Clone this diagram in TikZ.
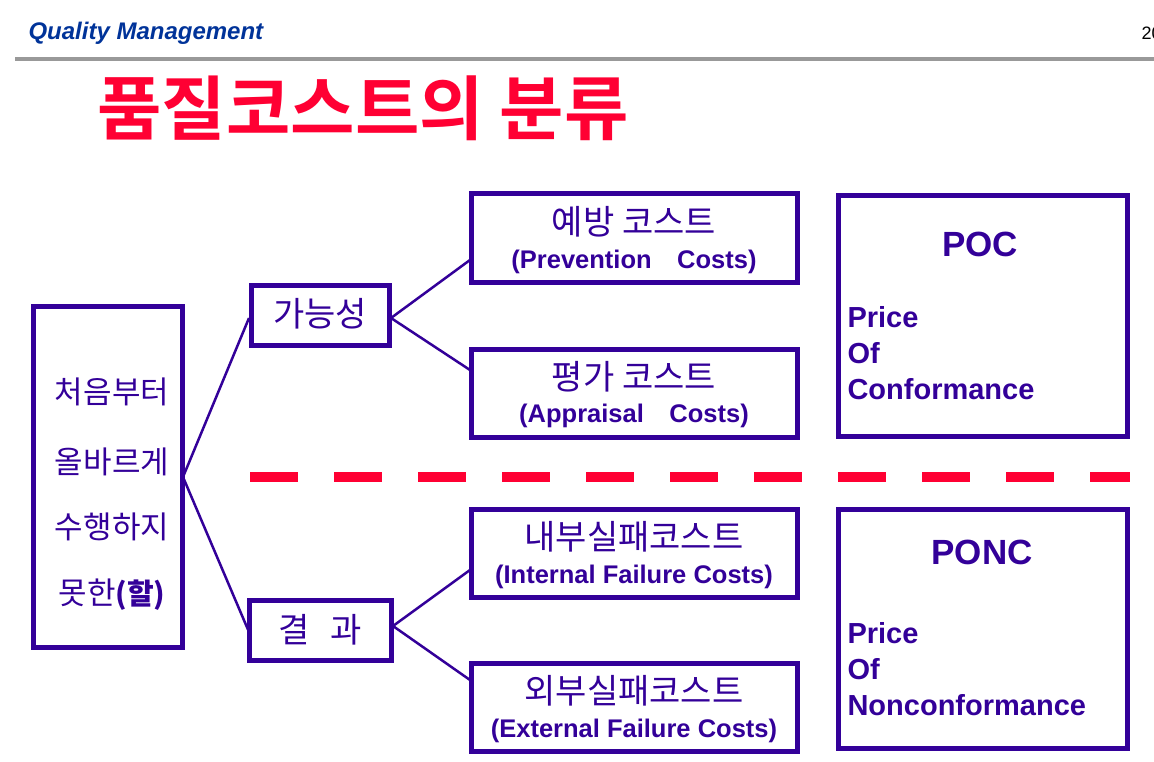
\documentclass[tikz,border=0pt]{standalone}
\usepackage{fontspec}
\setmainfont{Liberation Sans}
\newfontfamily\kr{Noto Sans CJK KR}
\newfontfamily\krb{Noto Sans CJK KR Bold}
\definecolor{ink}{HTML}{330099}
\definecolor{hdr}{HTML}{003399}
\definecolor{ttl}{HTML}{FF0033}
\begin{document}
\begin{tikzpicture}[x=1pt,y=-1pt,
  bx/.style={draw=ink,line width=5pt},
  ln/.style={draw=ink,line width=2.5pt},
  en/.style={text=ink,font=\bfseries\fontsize{25.5}{28}\selectfont},
  ko/.style={text=ink,font=\kr\fontsize{34}{36}\selectfont},
  lk/.style={text=ink,font=\kr\fontsize{31}{34}\selectfont}]
\useasboundingbox (0,0) rectangle (1154,762);
\node[anchor=west,text=hdr,font=\bfseries\itshape\fontsize{24}{26}\selectfont] (hd) at (25,33) {Quality Management};
\node[anchor=west,font=\rmfamily\fontsize{18}{20}\selectfont] (pg) at (1138,33) {20};
\draw[draw=gray!80,line width=4pt] (15,59) -- (1154,59);
\node[anchor=west,text=ttl,font=\krb\fontsize{70}{74}\selectfont] (t) at (94,108) {품질코스트의 분류};
% left box
\draw[bx] (33,306) rectangle (182,647);
\node[lk] (l1) at (112,392) {처음부터};
\node[lk] (l2) at (112,462) {올바르게};
\node[lk] (l3) at (112,527) {수행하지};
\node[lk] (l4) at (112,595) {못한\bfseries\fontsize{29}{30}\selectfont(할)};
\coordinate (L) at (183,477);
% mid boxes
\draw[bx] (251,285) rectangle (389,345);
\node[ko] (a) at (320,314) {가능성};
\draw[bx] (249,600) rectangle (391,660);
\node[ko] (b) at (320,630) {결\hspace{0.6em}과};
\draw[ln] (L) -- (249,318);
\draw[ln] (L) -- (249,632);
% right boxes
\draw[bx] (471,194) rectangle (797,282);
\node[ko] (p1) at (634,222) {예방 코스트};
\node[en] (p2) at (634,262) {(Prevention\hspace{1em}Costs)};
\draw[bx] (471,349) rectangle (797,437);
\node[ko] (q1) at (634,377) {평가 코스트};
\node[en] (q2) at (634,416) {(Appraisal\hspace{1em}Costs)};
\draw[bx] (471,509) rectangle (797,597);
\node[ko] (r1) at (634,537) {내부실패코스트};
\node[en] (r2) at (634,577) {(Internal Failure Costs)};
\draw[bx] (471,663) rectangle (797,751);
\node[ko] (s1) at (634,691) {외부실패코스트};
\node[en] (s2) at (634,731) {(External Failure Costs)};
\draw[ln] (391,318) -- (470,260);
\draw[ln] (391,318) -- (470,370);
\draw[ln] (393,626) -- (470,570);
\draw[ln] (393,626) -- (470,680);
% POC boxes
\draw[bx] (838,196) rectangle (1127,436);
\node[text=ink,font=\bfseries\fontsize{35}{38}\selectfont] (poc) at (980,244) {POC};
\node[anchor=north west,align=left,text=ink,font=\bfseries\fontsize{29}{36}\selectfont] (pt) at (844,303) {Price\\Of\\Conformance};
\draw[bx] (838,509) rectangle (1127,748);
\node[text=ink,font=\bfseries\fontsize{35}{38}\selectfont] (ponc) at (982,552) {PONC};
\node[anchor=north west,align=left,text=ink,font=\bfseries\fontsize{29}{36}\selectfont] (pn) at (844,619) {Price\\Of\\Nonconformance};
% dashed line
\draw[draw=ttl,line width=10pt,dash pattern=on 48pt off 36pt] (250,477) -- (1130,477);
\end{tikzpicture}
\end{document}
